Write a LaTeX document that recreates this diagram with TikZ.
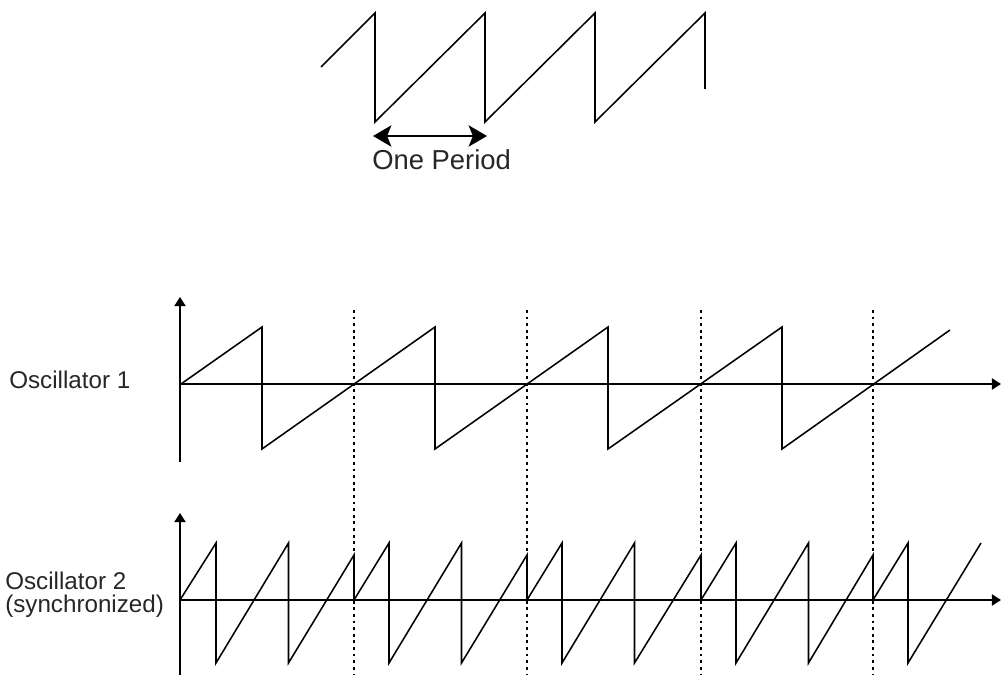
\documentclass[tikz,border=0pt]{standalone}
\usepackage{fontspec}
\setmainfont{Liberation Sans}
\usetikzlibrary{arrows.meta, positioning}

\begin{document}
\begin{tikzpicture}[
	x=0.025cm, y=-0.025cm,
	wave/.style={line width=1.1pt},
	axis/.style={line width=1.1pt,-{Triangle[width=8pt,length=6.5pt]}},
	syncline/.style={line width=1.1pt,dash pattern=on 2pt off 2.7pt},
	periodarrow/.style={line width=2pt,{Stealth[length=13pt,width=15pt,inset=3pt]}-{Stealth[length=13pt,width=15pt,inset=3pt]}},
	oscname/.style={font=\fontsize{17.2}{16.4}\selectfont,text=black!85,inner sep=0pt,align=left}
]
\useasboundingbox (0,0) rectangle (1002,675);

% Sawtooth with one period marked
\draw[wave] (321,67) -- (375,13) -- (375,122) -- (485,13) -- (485,122) -- (595,13) -- (595,122) -- (705,13) -- (705,89);
\coordinate (p1) at (373,136);
\coordinate (p2) at (487,136);
\draw[periodarrow] (p1) -- (p2);
\node[anchor=base west,inner sep=0pt,text=black!85,font=\fontsize{19.5}{22}\selectfont] (period) at (372,170) {One Period};

% Sync lines
\draw[syncline] (354,310) -- (354,675);
\draw[syncline] (527,310) -- (527,675);
\draw[syncline] (701,310) -- (701,675);
\draw[syncline] (873,310) -- (873,675);

% Oscillator 1
\coordinate (o1) at (180,384);
\coordinate (y1top) at (180,297);
\coordinate (y1bot) at (180,462);
\coordinate (x1end) at (1001,384);
\draw[axis] (y1bot) -- (y1top);
\draw[axis] (o1) -- (x1end);
\node[oscname,anchor=base west] (osc1) at (9,389) {Oscillator 1};
\draw[wave] (181,384) -- (262,327) -- (262,449) -- (435,327) -- (435,449) -- (608,327) -- (608,449) -- (782,327) -- (782,449) -- (950,330);

% Oscillator 2 (synchronized)
\coordinate (o2) at (180,600);
\coordinate (y2top) at (180,513);
\coordinate (y2bot) at (180,675);
\coordinate (x2end) at (1001,600);
\draw[axis] (y2bot) -- (y2top);
\draw[axis] (o2) -- (x2end);
\node[oscname,anchor=base west] (osc2) at (5,613) {Oscillator 2\\(synchronized)};
\draw[wave] (180,600) -- (216,543) -- (216,663) -- (288.5,543) -- (288.5,663) -- (354,555) -- (354,600)
	-- (389,543) -- (389,663) -- (461.5,543) -- (461.5,663) -- (527,555) -- (527,600)
	-- (562,543) -- (562,663) -- (634.5,543) -- (634.5,663) -- (701,555) -- (701,600)
	-- (736,543) -- (736,663) -- (808.5,543) -- (808.5,663) -- (873,555) -- (873,600)
	-- (908,543) -- (908,663) -- (981,543);

\end{tikzpicture}
\end{document}
